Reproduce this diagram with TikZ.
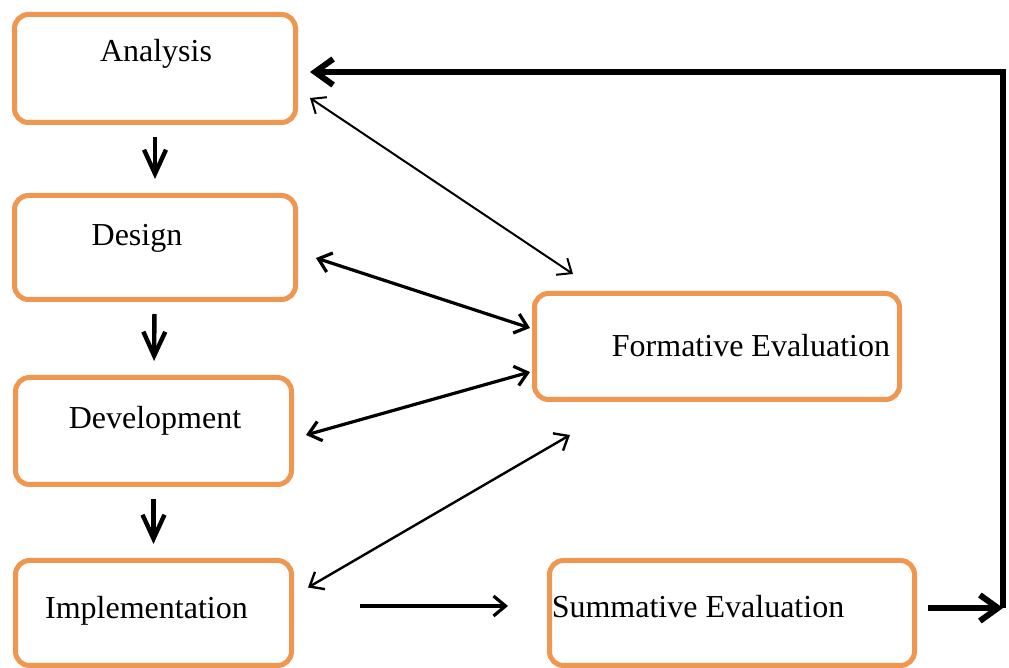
\documentclass[tikz,border=0pt]{standalone}
\usepackage{fontspec}
\setmainfont{Liberation Serif}
\usetikzlibrary{arrows.meta}
\definecolor{phaseline}{RGB}{239,150,80}
\tikzset{
  % node options
  phase/.style={draw=phaseline,line width=2.5pt,rounded corners=7pt,fill=white,inner sep=0pt},
  wide phase/.style={phase,minimum width=182.5pt},
  phase text/.style={anchor=base,inner sep=0pt,font=\fontsize{16}{19}\selectfont},
  % path options
  next phase/.style={-{Straight Barb[length=12pt,width=11pt]},line width=2.2pt,shorten <=6pt,shorten >=7pt},
  review/.style={{Straight Barb[length=6pt,width=10pt]}-{Straight Barb[length=6pt,width=10pt]},line width=1.6pt},
  review thin/.style={review,line width=1pt},
  handover/.style={-{Straight Barb[length=6pt,width=10pt]},line width=1.6pt},
  feedback/.style={-{Straight Barb[length=9pt,width=13pt]},line width=3pt},
}
\newcommand{\Analysis}{\node[phase,minimum width=140.5pt,minimum height=54pt] (analysis) at (155,68.5) {};}
\newcommand{\Design}{\node[phase,minimum width=140.5pt,minimum height=52pt] (design) at (155,247.5) {};}
\newcommand{\Development}{\node[phase,minimum width=138pt,minimum height=53.5pt] (development) at (153.5,431) {};}
\newcommand{\Implementation}{\node[phase,minimum width=138pt,minimum height=52.5pt] (implementation) at (153.5,613) {};}
\newcommand{\Formative}{\node[wide phase,minimum height=53pt] (formative) at (717,346.5) {};}
\newcommand{\Summative}{\node[wide phase,minimum height=52.5pt] (summative) at (732,613) {};}
\begin{document}
\begin{tikzpicture}[x=0.5pt,y=-0.5pt]
    \useasboundingbox (0,0) rectangle (1009,668);
    \Analysis
    \Design
    \Development
    \Implementation
    \Formative
    \Summative
    \node[phase text] (analysis text) at (156,62) {Analysis};
    \node[phase text] (design text) at (137,246) {Design};
    \node[phase text] (development text) at (155,429) {Development};
    \node[phase text] (implementation text) at (146.5,619) {Implementation};
    \node[phase text] (formative text) at (751,357) {Formative Evaluation};
    \node[phase text] (summative text) at (698,618) {Summative Evaluation};
    \draw[next phase] (analysis) -- (design);
    \draw[next phase] (design) -- (development);
    \draw[next phase] (development) -- (implementation);
    \draw[review thin] ([shift={(12,29.5)}]analysis.east) -- ([shift={(41,-17)}]formative.north west);
    \draw[review] ([shift={(18,10.5)}]design.east) -- ([shift={(-2,-18.5)}]formative.west);
    \draw[review] ([shift={(12,4)}]development.east) -- ([shift={(-2,25.5)}]formative.west);
    \draw[review,line width=1.2pt] ([shift={(14,29.5)}]implementation.north east) -- ([shift={(38,33)}]formative.south west);
    \draw[handover] ([shift={(66,-7)}]implementation.east) -- ([shift={(-39,-7)}]summative.west);
    \coordinate (corner) at (1003,608);
    \draw[feedback] ([shift={(11,-5)}]summative.east) -- (corner);
    \draw[feedback] (corner) |- ([shift={(12,3.5)}]analysis.east);
\end{tikzpicture}
\end{document}
